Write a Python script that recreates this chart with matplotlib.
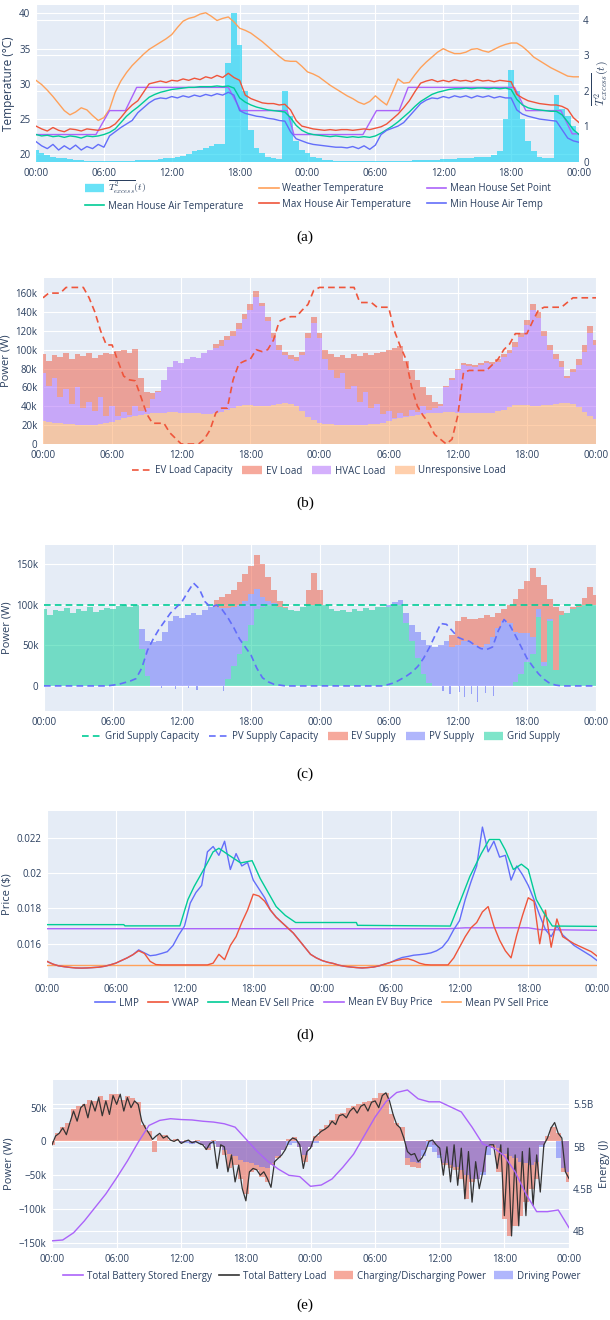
import numpy as np
import matplotlib
matplotlib.use('Agg')
import matplotlib.pyplot as plt
from matplotlib.lines import Line2D
from matplotlib.transforms import blended_transform_factory

# ---------------- (a) house temperatures, half-hourly over two days ----------------
weather_temp = [
    30.5, 29.9, 29.1, 28.2, 27.2, 26.2, 25.6, 26.0, 26.6, 26.3,
    25.5, 24.8, 25.2, 26.4, 28.8, 30.4, 31.6, 32.6, 33.4, 34.2,
    34.9, 35.4, 35.9, 36.4, 37.0, 38.0, 38.9, 39.3, 39.5, 39.9,
    40.1, 39.6, 39.0, 39.3, 39.5, 38.8, 37.9, 37.6, 37.2, 36.6,
    36.0, 35.3, 34.6, 33.9, 33.3, 33.2, 33.2, 32.5, 31.7, 31.4,
    31.0, 30.4, 29.8, 29.3, 28.8, 28.3, 27.9, 27.4, 27.1, 27.5,
    28.3, 27.6, 27.0, 28.8, 30.7, 30.1, 30.2, 31.3, 32.3, 33.1,
    33.8, 34.5, 35.0, 34.6, 34.3, 34.3, 34.5, 34.9, 35.0, 34.7,
    34.5, 34.9, 35.3, 35.6, 35.8, 35.8, 35.3, 34.6, 33.8, 33.3,
    32.8, 32.3, 31.9, 31.5, 31.1, 31.0, 31.0]
max_temp = [
    24.0, 23.6, 23.3, 23.8, 23.4, 23.2, 23.6, 23.5, 23.3, 23.6,
    23.5, 23.4, 23.6, 23.8, 24.3, 25.2, 26.2, 27.0, 27.6, 28.8,
    30.0, 30.2, 30.4, 30.2, 30.5, 30.4, 30.7, 30.5, 30.8, 30.6,
    31.0, 30.8, 31.2, 30.9, 31.5, 30.9, 30.5, 28.4, 27.9, 27.6,
    27.3, 27.2, 27.2, 27.0, 27.1, 26.3, 24.8, 24.0, 23.8, 23.6,
    23.5, 23.4, 23.5, 23.4, 23.5, 23.5, 23.4, 23.5, 23.6, 23.5,
    23.7, 23.9, 24.3, 25.0, 25.7, 26.6, 27.6, 28.9, 30.1, 30.4,
    30.6, 30.3, 30.5, 30.3, 30.6, 30.4, 30.5, 30.3, 30.6, 30.4,
    30.5, 30.3, 30.5, 30.4, 30.3, 28.5, 28.0, 27.6, 27.4, 27.2,
    27.1, 27.0, 27.0, 26.8, 26.4, 25.2, 24.5]
mean_temp = [
    22.8, 22.6, 22.7, 22.5, 22.6, 22.4, 22.6, 22.5, 22.3, 22.6,
    22.5, 22.6, 22.8, 23.1, 23.6, 24.5, 25.4, 26.1, 26.7, 27.4,
    28.1, 28.5, 28.8, 29.0, 29.2, 29.3, 29.4, 29.5, 29.5, 29.6,
    29.6, 29.6, 29.7, 29.6, 29.7, 29.4, 28.0, 27.4, 27.0, 26.7,
    26.5, 26.3, 26.2, 26.1, 26.0, 25.2, 24.1, 23.4, 23.0, 22.8,
    22.7, 22.6, 22.5, 22.6, 22.5, 22.4, 22.5, 22.4, 22.5, 22.4,
    22.6, 23.0, 23.5, 24.0, 24.6, 25.3, 26.0, 26.8, 27.5, 28.0,
    28.5, 28.8, 29.0, 29.2, 29.3, 29.3, 29.4, 29.3, 29.4, 29.4,
    29.3, 29.4, 29.3, 29.4, 29.2, 27.8, 27.0, 26.6, 26.4, 26.3,
    26.2, 26.1, 26.1, 25.6, 24.6, 23.5, 22.8]
min_temp = [
    21.8, 21.2, 20.8, 21.4, 20.6, 21.2, 20.7, 21.3, 20.6, 21.1,
    20.8, 21.4, 21.0, 22.6, 23.2, 23.8, 24.3, 24.8, 25.9, 26.6,
    27.3, 27.8, 28.0, 27.9, 28.2, 28.0, 28.3, 28.1, 28.4, 28.2,
    28.5, 28.3, 28.6, 28.4, 28.8, 28.4, 26.2, 25.8, 25.6, 25.4,
    25.3, 25.1, 25.0, 24.8, 24.7, 23.2, 22.2, 21.9, 21.6, 21.4,
    21.3, 21.2, 21.1, 21.0, 21.0, 20.9, 21.1, 20.8, 21.2, 20.7,
    21.3, 22.8, 23.4, 23.7, 24.0, 24.5, 25.4, 26.3, 27.2, 27.7,
    28.0, 27.9, 28.2, 28.0, 28.3, 28.1, 28.3, 28.0, 28.3, 28.1,
    28.3, 28.0, 28.2, 28.0, 28.0, 26.3, 25.7, 25.4, 25.2, 25.0,
    24.9, 24.8, 24.7, 23.5, 22.3, 21.9, 21.7]
t_excess = [
    0.35, 0.25, 0.2, 0.15, 0.12, 0.1, 0.08, 0.06, 0.05, 0.04,
    0.04, 0.04, 0.03, 0.02, 0.02, 0.02, 0.03, 0.04, 0.05, 0.05,
    0.06, 0.07, 0.08, 0.1, 0.12, 0.15, 0.18, 0.22, 0.3, 0.35,
    0.4, 0.45, 0.5, 0.5, 2.8, 4.2, 3.3, 2.0, 0.9, 0.4,
    0.25, 0.15, 0.1, 0.08, 2.0, 1.3, 0.6, 0.35, 0.25, 0.15,
    0.1, 0.06, 0.05, 0.04, 0.04, 0.03, 0.03, 0.03, 0.03, 0.03,
    0.02, 0.02, 0.02, 0.03, 0.03, 0.04, 0.04, 0.05, 0.05, 0.06,
    0.06, 0.07, 0.08, 0.08, 0.09, 0.1, 0.1, 0.12, 0.13, 0.14,
    0.15, 0.2, 0.3, 1.2, 2.6, 2.0, 1.2, 0.6, 0.3, 0.15,
    0.1, 0.1, 1.9, 1.5, 1.3, 1.0, 0.8]
setpoint_hours = [0, 5.3, 6.5, 7.9, 8.9, 17.0, 18.1, 22.2, 22.8, 28.9, 30.1,
                  32.1, 32.9, 42.3, 43.3, 46.4, 47.4, 48]
setpoint_temp = [22.8, 22.8, 26.2, 26.2, 29.5, 29.5, 26.2, 26.2, 22.8, 22.8, 26.2,
                 26.2, 29.5, 29.5, 26.2, 26.2, 22.9, 22.9]

# ---------------- (b) load breakdown, kW ----------------
ev_load_capacity = [
    155, 160, 160, 160, 166, 166, 166, 166, 155, 140,
    120, 105, 105, 88, 72, 68, 67, 50, 32, 22,
    22, 22, 12, 6, 0, 0, 0, 0, 5, 15,
    33, 38, 38, 68, 85, 88, 90, 100, 98, 100,
    110, 130, 133, 135, 135, 142, 148, 163, 166, 166,
    166, 166, 166, 166, 166, 150, 150, 150, 145, 145,
    145, 120, 104, 90, 60, 40, 30, 22, 10, 5,
    0, 5, 30, 76, 78, 78, 78, 78, 84, 90,
    100, 106, 117, 117, 117, 130, 142, 145, 145, 145,
    145, 150, 155, 155, 155, 155, 155]
ev_load = [
    20, 26, 24, 42, 38, 48, 35, 55, 52, 56,
    44, 66, 55, 69, 66, 66, 61, 35, 17, 6,
    1, 0, 0, 0, 0, 0, 0, 0, 0, 0,
    4, 6, 5, 6, 6, 5, 6, 6, 4, 5,
    6, 5, 4, 4, 4, 4, 6, 7, 6, 10,
    17, 22, 19, 33, 33, 48, 41, 56, 55, 66,
    65, 74, 71, 58, 42, 34, 20, 16, 7, 2,
    2, 2, 2, 2, 2, 2, 2, 2, 2, 3,
    3, 4, 5, 5, 6, 6, 6, 5, 5, 5,
    6, 2, 4, 6, 7, 7, 5]
hvac_load = [
    50.5, 38.5, 47.5, 28, 36.5, 21, 39.5, 17.5, 24.5, 14.5,
    29, 8, 16.5, 4.5, 6.5, 2, 10, 4, 6, 15.5,
    22, 35, 48.5, 54.5, 53, 57, 59.5, 58.5, 64, 68,
    69.5, 70, 74, 75.5, 81.5, 92, 101, 115.5, 106, 89.5,
    71, 58, 51, 48, 48, 59, 83, 103, 89.5, 68.5,
    57, 49.5, 54.5, 37.5, 41.5, 24.5, 34.5, 17, 20.5, 9.5,
    11, 2, 5.5, 1, 6, 3, 8, 3.5, 5, 7,
    26.5, 34.5, 45, 51, 50.5, 49.5, 51.5, 53.5, 52, 52.5,
    55.5, 57, 62, 72, 85, 101.5, 93.5, 74, 58.5, 47.5,
    39, 27, 34, 45, 64, 88, 78]
unresponsive_load = [
    24.5, 23.5, 22.5, 22, 21.5, 21, 20.5, 20.5, 20.5, 20.5,
    21, 22, 23.5, 25.5, 27.5, 29, 30, 31, 32, 32.5,
    33, 33, 33.5, 33.5, 33, 33, 32.5, 32.5, 32, 32,
    32.5, 34, 36, 38.5, 40.5, 41, 41, 40.5, 40, 40.5,
    41, 42, 43, 42, 40, 35, 29, 25, 22.5, 21.5,
    21, 20.5, 20.5, 20.5, 20.5, 20.5, 20.5, 21, 21.5, 22.5,
    24, 26, 27.5, 29, 30, 31, 32, 32.5, 33, 33,
    33.5, 33.5, 33, 33, 32.5, 32.5, 32.5, 32.5, 33, 34.5,
    36.5, 39, 41, 41, 41, 40.5, 40.5, 41, 41.5, 42.5,
    43, 43, 42, 39, 34, 30, 27]

# ---------------- (c) supply breakdown, kW ----------------
grid_supply_capacity = 100
pv_supply_capacity = [
    0, 0, 0, 0, 0, 0, 0, 0, 0, 0,
    0, 0, 1, 2, 4, 6, 9, 22, 44, 58,
    70, 80, 90, 97, 104, 116, 127, 120, 104, 97,
    100, 94, 84, 72, 58, 48, 38, 22, 10, 5,
    2, 1, 0, 0, 0, 0, 0, 0, 0, 0,
    0, 0, 0, 0, 0, 0, 0, 0, 0, 0,
    2, 4, 8, 12, 17, 24, 34, 47, 62, 77,
    76, 68, 60, 57, 55, 50, 46, 45, 48, 68,
    82, 75, 62, 48, 34, 24, 15, 8, 3, 1,
    0, 0, 0, 0, 0, 0, 0]
grid_supply = [
    95, 88, 94, 92, 96, 90, 95, 93, 97, 91,
    94, 96, 95, 99, 100, 97, 100, 45, 12, 0,
    0, 0, 0, 0, 0, 0, 0, 0, 0, 0,
    0, 0, 8, 25, 40, 55, 75, 95, 98, 100,
    99, 97, 96, 94, 92, 98, 100, 100, 100, 100,
    95, 92, 94, 91, 95, 93, 96, 94, 97, 98,
    98, 100, 100, 78, 55, 35, 15, 3, 0, 0,
    0, 0, 0, 0, 0, 0, 0, 0, 0, 0,
    0, 0, 5, 15, 30, 40, 85, 25, 80, 20,
    88, 90, 95, 97, 100, 100, 100]
pv_supply = [
    0, 0, 0, 0, 0, 0, 0, 0, 0, 0,
    0, 0, 0, 0, 0, 0, 0, 25, 43, 54,
    55, 66, 80, 86, 84, 88, 90, 88, 94, 98,
    98, 96, 88, 72, 60, 50, 38, 25, 12, 5,
    3, 0, 0, 0, 0, 0, 0, 0, 0, 0,
    0, 0, 0, 0, 0, 0, 0, 0, 0, 0,
    2, 3, 6, 12, 20, 32, 42, 48, 48, 50,
    55, 48, 50, 55, 55, 50, 48, 52, 60, 72,
    80, 78, 62, 50, 35, 20, 10, 5, 2, 0,
    0, 0, 0, 0, 0, 0, 0]
ev_supply = [
    0, 0, 0, 0, 0, 0, 0, 0, 0, 0,
    0, 0, 0, 0, 0, 0, 0, 0, 0, 0,
    0, 0, 0, 0, 0, 0, 0, 0, 0, 0,
    8, 14, 18, 22, 28, 33, 35, 42, 40, 30,
    16, 8, 2, 0, 0, 0, 18, 40, 18, 0,
    0, 0, 0, 0, 0, 0, 0, 0, 0, 0,
    0, 0, 0, 0, 0, 0, 0, 0, 0, 0,
    0, 15, 30, 30, 28, 32, 36, 35, 25, 18,
    15, 22, 40, 55, 65, 85, 40, 95, 25, 78,
    5, 0, 2, 3, 8, 22, 12]
# short reverse-flow samples of the PV supply
pv_reverse_hours = [10.2, 11.4, 12.6, 13.3, 15.6, 34.7, 35.3, 36.1, 36.6, 37.2, 37.7, 38.4, 39.1]
pv_reverse_kw = [-3, -4, -3, -5, -6, -6, -10, -8, -14, -10, -20, -9, -12]

# ---------------- (d) prices, $ ----------------
lmp = [
    0.01500, 0.01485, 0.01475, 0.01470, 0.01466, 0.01463, 0.01462, 0.01463, 0.01465, 0.01467,
    0.01472, 0.01480, 0.01490, 0.01505, 0.01520, 0.01538, 0.01565, 0.01548, 0.01532, 0.01536,
    0.01545, 0.01555, 0.01590, 0.01650, 0.01700, 0.01830, 0.01890, 0.01930, 0.02120, 0.02150,
    0.02100, 0.02180, 0.02020, 0.02110, 0.02040, 0.02060, 0.01960, 0.01910, 0.01860, 0.01790,
    0.01750, 0.01720, 0.01690, 0.01660, 0.01620, 0.01580, 0.01540, 0.01520, 0.01505, 0.01495,
    0.01488, 0.01478, 0.01472, 0.01468, 0.01465, 0.01463, 0.01465, 0.01468, 0.01475, 0.01485,
    0.01495, 0.01510, 0.01522, 0.01528, 0.01535, 0.01538, 0.01542, 0.01548, 0.01560, 0.01580,
    0.01620, 0.01680, 0.01730, 0.01850, 0.01950, 0.02040, 0.02260, 0.02120, 0.02180, 0.02090,
    0.02100, 0.01960, 0.02040, 0.01990, 0.01930, 0.01850, 0.01760, 0.01680, 0.01640, 0.01700,
    0.01650, 0.01620, 0.01590, 0.01570, 0.01550, 0.01530, 0.01505]
vwap = [
    0.01500, 0.01485, 0.01475, 0.01470, 0.01466, 0.01463, 0.01462, 0.01463, 0.01465, 0.01467,
    0.01472, 0.01480, 0.01490, 0.01505, 0.01520, 0.01538, 0.01560, 0.01545, 0.01500, 0.01482,
    0.01480, 0.01480, 0.01480, 0.01480, 0.01480, 0.01480, 0.01480, 0.01480, 0.01480, 0.01490,
    0.01540, 0.01510, 0.01590, 0.01640, 0.01720, 0.01790, 0.01880, 0.01870, 0.01840, 0.01790,
    0.01750, 0.01720, 0.01690, 0.01660, 0.01620, 0.01580, 0.01540, 0.01520, 0.01505, 0.01495,
    0.01488, 0.01478, 0.01472, 0.01468, 0.01465, 0.01463, 0.01465, 0.01468, 0.01475, 0.01485,
    0.01495, 0.01505, 0.01512, 0.01515, 0.01505, 0.01490, 0.01482, 0.01480, 0.01480, 0.01480,
    0.01480, 0.01520, 0.01580, 0.01640, 0.01690, 0.01720, 0.01780, 0.01810, 0.01700, 0.01620,
    0.01560, 0.01520, 0.01650, 0.01760, 0.01860, 0.01840, 0.01600, 0.01790, 0.01580, 0.01740,
    0.01640, 0.01620, 0.01600, 0.01585, 0.01570, 0.01555, 0.01530]
ev_sell_hours = [0, 6.7, 6.8, 11.6, 12.3, 12.85, 13.85, 14.5, 15.0, 15.9, 16.9, 17.9, 18.6,
                 19.3, 20.0, 20.8, 21.7, 27.0, 27.1, 35.2, 36.0, 36.9, 37.9, 38.6, 39.5,
                 40.0, 40.7, 41.4, 42.0, 42.7, 43.4, 44.1, 48.0]
ev_sell_price = [0.01708, 0.01708, 0.01701, 0.01701, 0.01850, 0.01925, 0.02040, 0.02120,
                 0.02140, 0.02100, 0.02057, 0.02070, 0.01970, 0.01890, 0.01810, 0.01760,
                 0.01720, 0.01720, 0.01704, 0.01700, 0.01830, 0.01980, 0.02110, 0.02190,
                 0.02190, 0.02130, 0.02020, 0.02050, 0.02020, 0.01850, 0.01770, 0.01700, 0.01698]
ev_buy_hours = [0, 35, 36.5, 42, 43, 48]
ev_buy_price = [0.01685, 0.01685, 0.01690, 0.01690, 0.01680, 0.01676]
pv_sell_price = 0.01479

# ---------------- (e) EV batteries ----------------
battery_load = [  # kW, every 20 min
    -5, 8, 12, 20, 10, 28, 45, 30, 50, 55, 35, 60, 45, 65, 38, 60, 40, 68,
    55, 70, 45, 65, 50, 60, 55, 30, 20, 12, 3, 8, 12, 5, 8, 2, 0, 3,
    -3, 0, 2, -2, 0, -3, -5, -12, -3, 0, -40, -5, -8, -45, -20, -60, -35, -70,
    -88, -45, -40, -42, -50, -45, -55, -68, -30, -25, -20, -12, 0, 5, 3, -5, -40, -15,
    -10, 5, 10, 15, 18, 22, 30, 25, 38, 40, 35, 45, 50, 42, 52, 55, 45, 58,
    60, 50, 68, 72, 60, 40, 25, 20, 5, -15, -20, -18, -30, -25, -15, 0, 2, -5,
    -10, -50, -8, -60, -5, -65, -10, -85, -15, -90, -30, -70, -45, -8, -5, -5, -40, -5,
    -110, -10, -140, -20, -125, -15, -110, -10, -95, -20, -75, -5, 5, 20, 28, 12, 5, -45,
    -55]
charging_power = [  # kW, half-hourly
    -5, 12, 22, 28, 48, 52, 55, 62, 60, 68,
    62, 70, 70, 62, 68, 65, 58, 25, 15, -15,
    10, 10, 2, 3, -3, 2, -2, 2, -5, -12,
    2, -8, -20, -40, -35, -55, -78, -45, -42, -52,
    -60, -35, -25, -12, 3, 6, -8, -30, -8, 8,
    18, 25, 32, 40, 42, 50, 52, 55, 58, 60,
    65, 72, 72, 40, 28, 22, -35, -38, -40, -12,
    2, -5, -20, -35, -40, -42, -55, -85, -60, -55,
    -45, -5, -10, -45, -115, -140, -125, -110, -90, -70,
    -55, -5, 8, 22, 12, -45, -60]
driving_power = [  # kW, half-hourly
    0, 0, 0, 0, 0, 0, 0, 0, 0, 0,
    0, 0, 0, 0, 0, 0, 0, 0, 0, 0,
    0, 0, 0, 0, -2, -3, -4, -2, -6, -10,
    -4, -8, -12, -18, -22, -28, -30, -32, -35, -38,
    -40, -32, -22, -12, -5, -3, -8, -20, -8, -2,
    0, 0, 0, 0, 0, 0, 0, 0, 0, 0,
    0, 0, 0, 0, 0, 0, -25, -30, -32, -22,
    -8, -15, -25, -32, -35, -38, -42, -50, -55, -55,
    -50, -20, -5, -10, -18, -22, -25, -30, -32, -35,
    -30, -8, 0, 0, -25, -40, -45]
stored_energy = [  # billions of joules, hourly
    3.885, 3.895, 3.98, 4.12, 4.28, 4.44, 4.63, 4.83, 5.05, 5.25,
    5.31, 5.33, 5.32, 5.315, 5.30, 5.29, 5.27, 5.23, 5.09, 4.95,
    4.83, 4.735, 4.66, 4.645, 4.53, 4.545, 4.617, 4.755, 4.91, 5.13,
    5.35, 5.53, 5.64, 5.67, 5.565, 5.53, 5.53, 5.47, 5.41, 5.23,
    5.03, 4.985, 4.89, 4.70, 4.44, 4.23, 4.23, 4.25, 4.04]

hour_ticks = list(range(0, 49, 6))
hour_labels = ['00:00', '06:00', '12:00', '18:00', '00:00', '06:00', '12:00', '18:00', '00:00']

BG = '#E5ECF6'
TXT = '#2a3f5f'
BLUE, RED, GREEN, PURPLE, ORANGE, CYAN = '#636EFA', '#EF553B', '#00CC96', '#AB63FA', '#FFA15A', '#19D3F3'

plt.rcParams['font.family'] = ['Open Sans', 'DejaVu Sans']
plt.rcParams['mathtext.fontset'] = 'cm'

W, H = 610, 1320
fig = plt.figure(figsize=(W / 100, H / 100), dpi=100)

t_half = np.arange(len(mean_temp)) * 0.5
t_third = np.arange(len(battery_load)) / 3.0
t_hour = np.arange(len(stored_energy))


def panel(left, top, right, bottom):
    ax = fig.add_axes([left / W, 1 - bottom / H, (right - left) / W, (bottom - top) / H])
    ax.set_facecolor(BG)
    for s in ax.spines.values():
        s.set_visible(False)
    ax.tick_params(length=0, labelsize=7, colors=TXT, pad=4)
    ax.set_xlim(0, 48)
    ax.set_xticks(hour_ticks)
    ax.set_xticklabels(hour_labels)
    return ax


def twin(ax):
    ax2 = ax.twinx()
    for s in ax2.spines.values():
        s.set_visible(False)
    ax2.tick_params(length=0, labelsize=7, colors=TXT, pad=3)
    return ax2


def grid(ax, ys, scale_ax=None):
    tr = blended_transform_factory(ax.transAxes, (scale_ax or ax).transData)
    for y in ys:
        ax.plot([0, 1], [y, y], transform=tr, color='white', lw=0.8, zorder=0.5)
    for x in hour_ticks:
        ax.axvline(x, color='white', lw=0.8, zorder=0.5)


def line_h(color, dashed=False):
    return Line2D([], [], color=color, lw=1.2, linestyle=(0, (4, 2.5)) if dashed else '-')


def bar_h(color, alpha=0.5):
    return Line2D([], [], color=color, alpha=alpha, lw=6, solid_capstyle='butt')


def legend(handles, labels, cx, cy, ncol, spacing=1.0):
    fig.legend(handles, labels, loc='center', bbox_to_anchor=(cx / W, 1 - cy / H), ncol=ncol,
               frameon=False, fontsize=7, labelcolor=TXT, handlelength=2.0,
               handletextpad=0.4, columnspacing=spacing, borderaxespad=0, borderpad=0)


def caption(text, cy):
    fig.text(0.5, 1 - cy / H, text, ha='center', va='center', fontsize=11,
             family='Liberation Serif', color='black')


dash = (0, (4, 2.5))

# ---- (a) ----
ax = panel(36, 5, 579, 162)
ax2 = twin(ax)
ax.set_zorder(ax2.get_zorder() + 1)
ax.patch.set_visible(False)
ax2.patch.set_visible(True)
ax2.set_facecolor(BG)
ax.set_ylim(18.9, 41.2)
ax.set_yticks([20, 25, 30, 35, 40])
ax2.set_ylim(0, 4.42)
ax2.set_yticks([0, 1, 2, 3, 4])
grid(ax2, [20, 25, 30, 35, 40], ax)
grid(ax2, [1, 2, 3, 4])
ax2.fill_between(t_half, 0, t_excess, step='mid', color=CYAN, alpha=0.65, lw=0, zorder=1)
ax.plot(t_half, weather_temp, color=ORANGE, lw=1.0)
ax.plot(setpoint_hours, setpoint_temp, color=PURPLE, lw=1.0)
ax.plot(t_half, mean_temp, color=GREEN, lw=1.0)
ax.plot(t_half, max_temp, color=RED, lw=1.0)
ax.plot(t_half, min_temp, color=BLUE, lw=1.0)
ax.set_ylabel('Temperature (°C)', fontsize=8.5, color=TXT, labelpad=3)
ax2.set_ylabel(r'$\overline{T^2_{excess}}(t)$', fontsize=8.5, color=TXT, labelpad=1)
legend([bar_h(CYAN, 0.65), line_h(GREEN), line_h(ORANGE), line_h(RED), line_h(PURPLE), line_h(BLUE)],
       [r'$\overline{T^2_{excess}}(t)$', 'Mean House Air Temperature', 'Weather Temperature',
        'Max House Air Temperature', 'Mean House Set Point', 'Min House Air Temp'],
       318, 195, 3, 1.6)
caption('(a)', 237)

# ---- (b) ----
ax = panel(43, 278, 596, 444)
ax.set_ylim(0, 176)
yt = [0, 20, 40, 60, 80, 100, 120, 140, 160]
ax.set_yticks(yt)
ax.set_yticklabels(['0'] + [f'{v}k' for v in yt[1:]])
grid(ax, yt)
unresp = np.array(unresponsive_load)
hvac = np.array(hvac_load)
ev = np.array(ev_load)
ax.fill_between(t_half, 0, unresp, step='mid', color=ORANGE, alpha=0.5, lw=0, zorder=1)
ax.fill_between(t_half, unresp, unresp + hvac, step='mid', color=PURPLE, alpha=0.5, lw=0, zorder=1)
ax.fill_between(t_half, unresp + hvac, unresp + hvac + ev, step='mid', color=RED, alpha=0.5, lw=0, zorder=1)
ax.plot(t_half, ev_load_capacity, color=RED, lw=1.2, linestyle=dash, zorder=3)
ax.set_ylabel('Power (W)', fontsize=8, color=TXT, labelpad=3)
legend([line_h(RED, True), bar_h(RED), bar_h(PURPLE), bar_h(ORANGE)],
       ['EV Load Capacity', 'EV Load', 'HVAC Load', 'Unresponsive Load'], 319, 471, 4)
caption('(b)', 503)

# ---- (c) ----
ax = panel(44, 545, 596, 711)
ax.set_ylim(-31, 174)
yt = [0, 50, 100, 150]
ax.set_yticks(yt)
ax.set_yticklabels(['0', '50k', '100k', '150k'])
grid(ax, [50, 100, 150])
ax.axhline(0, color='white', lw=1.6, zorder=0.6)
grid_s = np.array(grid_supply)
pv_s = np.array(pv_supply)
ev_s = np.array(ev_supply)
ax.fill_between(t_half, 0, grid_s, step='mid', color=GREEN, alpha=0.5, lw=0, zorder=1)
ax.fill_between(t_half, grid_s, grid_s + pv_s, step='mid', color=BLUE, alpha=0.5, lw=0, zorder=1)
ax.fill_between(t_half, grid_s + pv_s, grid_s + pv_s + ev_s, step='mid', color=RED, alpha=0.5, lw=0, zorder=1)
ax.bar(pv_reverse_hours, pv_reverse_kw, width=0.1, color=BLUE, alpha=0.6, lw=0, zorder=1)
ax.axhline(grid_supply_capacity, color=GREEN, lw=1.2, linestyle=dash, zorder=3)
ax.plot(t_half, pv_supply_capacity, color=BLUE, lw=1.2, linestyle=dash, zorder=3)
ax.set_ylabel('Power (W)', fontsize=8, color=TXT, labelpad=3)
legend([line_h(GREEN, True), line_h(BLUE, True), bar_h(RED), bar_h(BLUE), bar_h(GREEN)],
       ['Grid Supply Capacity', 'PV Supply Capacity', 'EV Supply', 'PV Supply', 'Grid Supply'],
       321, 737, 5)
caption('(c)', 774)

# ---- (d) ----
ax = panel(47, 811, 597, 978)
ax.set_ylim(0.01406, 0.02351)
yt = [0.016, 0.018, 0.020, 0.022]
ax.set_yticks(yt)
ax.set_yticklabels(['0.016', '0.018', '0.02', '0.022'])
grid(ax, yt)
ax.plot([0, 48], [pv_sell_price, pv_sell_price], color=ORANGE, lw=1.0, zorder=2)
ax.plot(ev_buy_hours, ev_buy_price, color=PURPLE, lw=1.0, zorder=2)
ax.plot(t_half, lmp, color=BLUE, lw=1.0, zorder=2)
ax.plot(t_half, vwap, color=RED, lw=1.0, zorder=2)
ax.plot(ev_sell_hours, ev_sell_price, color=GREEN, lw=1.0, zorder=2)
ax.set_ylabel('Price ($)', fontsize=8, color=TXT, labelpad=3)
legend([line_h(BLUE), line_h(RED), line_h(GREEN), line_h(PURPLE), line_h(ORANGE)],
       ['LMP', 'VWAP', 'Mean EV Sell Price', 'Mean EV Buy Price', 'Mean PV Sell Price'],
       322, 1003, 5)
caption('(d)', 1035)

# ---- (e) ----
ax = panel(52, 1080, 569, 1248)
ax2 = twin(ax)
ax.set_ylim(-157.9, 91)
yt = [-150, -100, -50, 0, 50]
ax.set_yticks(yt)
ax.set_yticklabels(['\u2212150k', '\u2212100k', '\u221250k', '0', '50k'])
ax2.set_ylim(3.80, 5.788)
ax2.set_yticks([4, 4.5, 5, 5.5])
ax2.set_yticklabels(['4B', '4.5B', '5B', '5.5B'])
grid(ax, [-150, -100, -50, 50])
grid(ax, [4, 4.5, 5, 5.5], ax2)
ax.axhline(0, color='white', lw=1.6, zorder=0.6)
ax.fill_between(t_half, 0, charging_power, step='mid', color=RED, alpha=0.5, lw=0, zorder=1)
ax.fill_between(t_half, 0, driving_power, step='mid', color=BLUE, alpha=0.5, lw=0, zorder=1)
ax.plot(t_third, battery_load, color='#333333', lw=0.9, zorder=2)
ax2.plot(t_hour, stored_energy, color=PURPLE, lw=1.0)
ax.set_ylabel('Power (W)', fontsize=8, color=TXT, labelpad=3)
ax2.set_ylabel('Energy (J)', fontsize=8, color=TXT, labelpad=4)
legend([line_h(PURPLE), line_h('#333333'), bar_h(RED), bar_h(BLUE)],
       ['Total Battery Stored Energy', 'Total Battery Load', 'Charging/Discharging Power', 'Driving Power'],
       322, 1276, 4, 0.8)
caption('(e)', 1305)

fig.savefig('out.png', dpi=100)
